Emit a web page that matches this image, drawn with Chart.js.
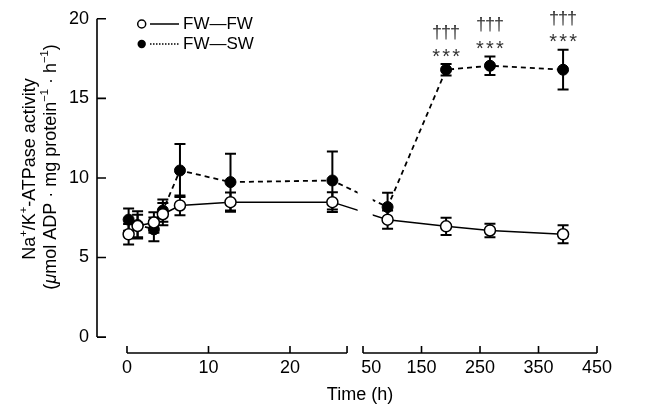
<!DOCTYPE html>
<html><head><meta charset="utf-8">
<script src="https://cdn.jsdelivr.net/npm/chart.js@4.4.1/dist/chart.umd.min.js"></script>
<style>html,body{margin:0;padding:0;background:#fff}#wrap{width:646px;height:415px;position:relative}</style>
</head><body><div id="wrap"><canvas id="c" width="646" height="415"></canvas></div>
<script>
// ---- data ----
const timesH     = [0.2, 1.3, 3.3, 4.4, 6.5, 12.7, 25.2, 92, 192, 267, 392];
const fwFwMean   = [6.46, 6.98, 7.2, 7.72, 8.27, 8.48, 8.48, 7.38, 6.96, 6.7, 6.46];
const fwFwErr    = [0.65, 0.7, 0.65, 0.7, 0.62, 0.6, 0.62, 0.57, 0.54, 0.42, 0.56];
const fwSwMean   = [7.38, 7.05, 6.77, 7.95, 10.47, 9.74, 9.84, 8.17, 16.8, 17.05, 16.8];
const fwSwErr    = [0.7, 0.85, 0.75, 0.7, 1.67, 1.78, 1.82, 0.9, 0.36, 0.58, 1.25];
const sigStars   = ['', '', '', '', '', '', '', '', '***', '***', '***'];
const sigDaggers = ['', '', '', '', '', '', '', '', '\u2020\u2020\u2020', '\u2020\u2020\u2020', '\u2020\u2020\u2020'];
const xTickHours = [0, 10, 20, 50, 150, 250, 350, 450];
const yTickValues = [0, 5, 10, 15, 20];
const seriesNames = ['FW\u2014FW', 'FW\u2014SW'];

// ---- broken time axis: 0–27 h linear, then 50–450 h compressed ----
const LEFT_END = 27, RIGHT_START = 50, RIGHT_END = 450;
const RIGHT_U0 = 28.96, RIGHT_SCALE = 28.71 / 400;
function toAxis(h) { return h <= 37 ? h : RIGHT_U0 + (h - RIGHT_START) * RIGHT_SCALE; }
const LINE_GAP = [28.3, 30.15];
const LABEL_NUDGE = { 50: 1.0 };   // the "50" label sits right of its tick in the reference
const FONT = "'Liberation Sans', Arial, Helvetica, sans-serif";

Chart.defaults.font.family = FONT;
Chart.defaults.color = '#000';

const errorBars = {
  id: 'errorBars',
  beforeDatasetsDraw(chart) {
    const { ctx, scales: { x, y } } = chart;
    ctx.save();
    ctx.strokeStyle = '#000'; ctx.lineWidth = 2;
    [[fwSwMean, fwSwErr], [fwFwMean, fwFwErr]].forEach(([m, e]) => {
      m.forEach((v, i) => {
        const px = x.getPixelForValue(toAxis(timesH[i]));
        const top = y.getPixelForValue(v + e[i]), bot = y.getPixelForValue(v - e[i]);
        ctx.beginPath();
        ctx.moveTo(px, top); ctx.lineTo(px, bot);
        ctx.moveTo(px - 5.5, top); ctx.lineTo(px + 5.5, top);
        ctx.moveTo(px - 5.5, bot); ctx.lineTo(px + 5.5, bot);
        ctx.stroke();
      });
    });
    ctx.restore();
  }
};

const gapClip = {
  id: 'gapClip',
  beforeDatasetsDraw(chart) {
    const { ctx, scales: { x }, width, height } = chart;
    const g0 = x.getPixelForValue(LINE_GAP[0]), g1 = x.getPixelForValue(LINE_GAP[1]);
    ctx.save();
    ctx.beginPath();
    ctx.rect(0, 0, g0, height);
    ctx.rect(g1, 0, width - g1, height);
    ctx.clip();
  },
  afterDatasetsDraw(chart) { chart.ctx.restore(); }
};

function drawRich(ctx, segs, size) {
  const w = segs.map(s => {
    ctx.font = (s.italic ? 'italic ' : '') + (s.sup ? size * 0.62 : size) + 'px ' + FONT;
    return ctx.measureText(s.t).width;
  });
  let xx = -w.reduce((a, b) => a + b, 0) / 2;
  segs.forEach((s, i) => {
    ctx.font = (s.italic ? 'italic ' : '') + (s.sup ? size * 0.62 : size) + 'px ' + FONT;
    ctx.fillText(s.t, xx, s.sup ? -size * 0.42 : 0);
    xx += w[i];
  });
}

const decorations = {
  id: 'decorations',
  afterDraw(chart) {
    const { ctx, scales: { x, y }, chartArea } = chart;
    ctx.save();
    ctx.strokeStyle = '#000'; ctx.fillStyle = '#000'; ctx.lineWidth = 1.6;
    // y axis
    const yx = chartArea.left;
    ctx.beginPath();
    ctx.moveTo(yx, y.getPixelForValue(20)); ctx.lineTo(yx, y.getPixelForValue(0));
    yTickValues.forEach(v => { const py = y.getPixelForValue(v); ctx.moveTo(yx, py); ctx.lineTo(yx + 9, py); });
    ctx.stroke();
    // x axis (broken)
    const xy = chartArea.bottom;
    ctx.beginPath();
    [[0, LEFT_END], [RIGHT_START, RIGHT_END]].forEach(([a, b]) => {
      ctx.moveTo(x.getPixelForValue(toAxis(a)), xy); ctx.lineTo(x.getPixelForValue(toAxis(b)), xy);
    });
    [...xTickHours, LEFT_END].forEach(h => {
      const px = x.getPixelForValue(toAxis(h)); ctx.moveTo(px, xy); ctx.lineTo(px, xy - 7);
    });
    ctx.stroke();
    // axis titles
    ctx.textBaseline = 'alphabetic'; ctx.textAlign = 'left';
    ctx.save();
    ctx.translate(35, 169); ctx.rotate(-Math.PI / 2);
    drawRich(ctx, [{ t: 'Na' }, { t: '+', sup: true }, { t: '/K' }, { t: '+', sup: true }, { t: '-ATPase activity' }], 18);
    ctx.restore();
    ctx.save();
    ctx.translate(56, 167); ctx.rotate(-Math.PI / 2);
    drawRich(ctx, [{ t: '(' }, { t: '\u03bc', italic: true }, { t: 'mol ADP \u00b7 mg protein' }, { t: '\u22121', sup: true },
                   { t: ' \u00b7 h' }, { t: '\u22121', sup: true }, { t: ')' }], 18);
    ctx.restore();
    ctx.font = '18px ' + FONT; ctx.textAlign = 'center'; ctx.textBaseline = 'middle';
    ctx.fillText('Time (h)', 360, 395);
    // significance marks
    ctx.fillStyle = '#333';
    fwSwMean.forEach((v, i) => {
      const px = x.getPixelForValue(toAxis(timesH[i]));
      const top = y.getPixelForValue(v + fwSwErr[i]);
      if (sigStars[i]) {
        ctx.font = '20px ' + FONT;
        [...sigStars[i]].forEach((c, k) => ctx.fillText(c, px + (k - 1) * 10, top - 7));
      }
      if (sigDaggers[i]) {
        ctx.font = '18px ' + FONT;
        [...sigDaggers[i]].forEach((c, k) => ctx.fillText(c, px + (k - 1) * 9, top - 31));
      }
    });
    // legend
    ctx.fillStyle = '#000'; ctx.lineWidth = 1.5;
    ctx.beginPath(); ctx.arc(141.7, 24, 4, 0, Math.PI * 2); ctx.fillStyle = '#fff'; ctx.fill(); ctx.stroke();
    ctx.beginPath(); ctx.moveTo(150, 24); ctx.lineTo(179, 24); ctx.stroke();
    ctx.fillStyle = '#000';
    ctx.beginPath(); ctx.arc(141.7, 44, 4.2, 0, Math.PI * 2); ctx.fill();
    ctx.setLineDash([1.5, 1.5]);
    ctx.beginPath(); ctx.moveTo(150, 44); ctx.lineTo(179, 44); ctx.stroke();
    ctx.setLineDash([]);
    ctx.font = '17px ' + FONT; ctx.textAlign = 'left'; ctx.textBaseline = 'middle';
    ctx.fillText(seriesNames[0], 183, 24);
    ctx.fillText(seriesNames[1], 183, 44);
    ctx.restore();
  }
};

new Chart(document.getElementById('c'), {
  type: 'line',
  data: {
    datasets: [
      {
        label: seriesNames[0],
        data: fwFwMean.map((v, i) => ({ x: toAxis(timesH[i]), y: v })),
        borderColor: '#000', borderWidth: 1.5, backgroundColor: '#fff',
        pointRadius: 5.5, pointHoverRadius: 5.5, pointBorderWidth: 1.5,
        pointBackgroundColor: '#fff', pointBorderColor: '#000', tension: 0, clip: false
      },
      {
        label: seriesNames[1],
        data: fwSwMean.map((v, i) => ({ x: toAxis(timesH[i]), y: v })),
        borderColor: '#000', borderWidth: 1.8, borderDash: [5, 4], backgroundColor: '#000',
        pointRadius: 5.5, pointHoverRadius: 5.5, pointBorderWidth: 1,
        pointBackgroundColor: '#000', pointBorderColor: '#000', tension: 0, clip: false
      }
    ]
  },
  options: {
    responsive: false, animation: false, events: [],
    layout: { padding: { left: 0, right: 49, top: 18, bottom: 0 } },
    plugins: { legend: { display: false }, tooltip: { enabled: false } },
    scales: {
      x: {
        type: 'linear', min: -3.68, max: 57.67,
        grid: { display: false, drawTicks: false }, border: { display: false },
        afterBuildTicks(s) { s.ticks = xTickHours.map(h => ({ value: toAxis(h) + (LABEL_NUDGE[h] || 0) })); },
        afterFit(s) { s.height = 62; },
        ticks: { font: { size: 18 }, color: '#000', padding: 4, maxRotation: 0, autoSkip: false,
                 callback: (v, i) => String(xTickHours[i]) }
      },
      y: {
        type: 'linear', min: -1, max: 20,
        grid: { display: false, drawTicks: false }, border: { display: false },
        afterBuildTicks(s) { s.ticks = yTickValues.map(v => ({ value: v })); },
        afterFit(s) { s.width = 97; },
        ticks: { font: { size: 18 }, color: '#000', padding: 8, callback: v => String(v) }
      }
    }
  },
  plugins: [errorBars, gapClip, decorations]
});
</script></body></html>
